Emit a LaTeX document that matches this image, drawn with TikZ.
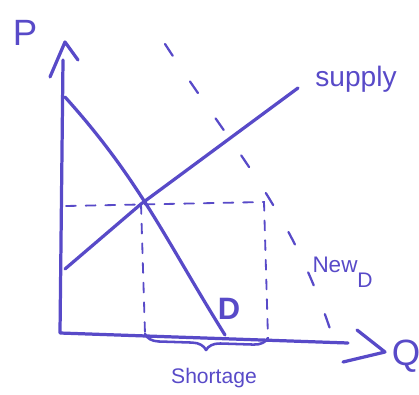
\documentclass[tikz,border=0pt]{standalone}
\usepackage{fontspec}
\setmainfont{Liberation Sans}
\usetikzlibrary{decorations.pathreplacing}
\definecolor{ink}{RGB}{88,74,200}

\begin{document}
\begin{tikzpicture}[x=0.025cm, y=-0.025cm]
    % Styles
    \tikzstyle{pen} = [draw=ink, line width=2.3pt, line cap=round, line join=round]
    \tikzstyle{guide} = [draw=ink, line width=1.3pt, line cap=round, dash pattern=on 7pt off 7pt]
    \tikzstyle{newcurve} = [draw=ink, line width=1.6pt, line cap=round, dash pattern=on 10pt off 22pt]
    \tikzstyle{hand} = [text=ink, inner sep=0pt]
    \useasboundingbox (0,0) rectangle (419,394);

    % Points
    \coordinate (origin) at (60,333);
    \coordinate (ptop) at (63,60);
    \coordinate (qend) at (348,343);
    \coordinate (dtop) at (65,97);
    \coordinate (dbot) at (225,335);
    \coordinate (sbot) at (65,269);
    \coordinate (eq) at (141,204);
    \coordinate (stop) at (298,88);
    \coordinate (peq) at (66,206);
    \coordinate (corner) at (264,202);
    \coordinate (qeq) at (145,334);
    \coordinate (qnew) at (268,338);
    \coordinate (ndtop) at (165,44);
    \coordinate (ndbot) at (332,335);

    % Axes
    \draw[pen] (ptop) -- (origin) -- (qend);
    \draw[pen] (50,77) -- (65,42) -- (78,60);
    \draw[pen] (357,330) -- (385,352) -- (343,362);

    % Curves
    \draw[pen] (dtop) to[out=-48, in=122] (dbot);
    \draw[pen] (sbot) -- (eq) -- (stop);
    \draw[newcurve] (ndtop) to[out=-57, in=108] (ndbot);

    % Guides
    \draw[guide] (peq) -- (corner) -- (qnew);
    \draw[guide] (eq) -- (qeq);
    \draw[pen, line width=1.8pt, decorate, decoration={brace, mirror, amplitude=10pt, aspect=0.5}]
        (qeq) -- (qnew);

    % Nodes
    \node[hand, font=\fontsize{26}{28}\selectfont] (plabel) at (25,33) {P};
    \node[hand, font=\fontsize{26}{28}\selectfont] (qlabel) at (406,356) {Q};
    \node[hand, font=\fontsize{20}{22}\selectfont, anchor=base] (slabel) at (356,87) {supply};
    \node[hand, font=\fontsize{22}{24}\selectfont\bfseries] (dlabel) at (229,309) {D};
    \node[hand, font=\fontsize{16}{18}\selectfont] (newlabel) at (335,265) {New};
    \node[hand, font=\fontsize{15}{17}\selectfont] (ndlabel) at (365,280) {D};
    \node[hand, font=\fontsize{15}{17}\selectfont] (shortlabel) at (214,378) {Shortage};
\end{tikzpicture}
\end{document}
